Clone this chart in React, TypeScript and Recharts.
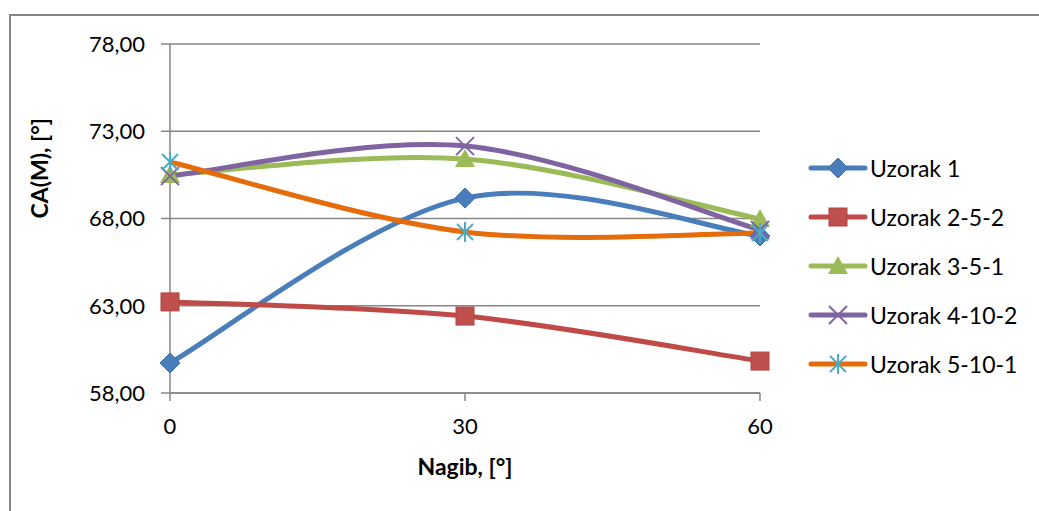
import React from 'react';
import { LineChart, Line, XAxis, YAxis, CartesianGrid, Legend } from 'recharts';

// Nagib (tilt angle) in degrees
const angles = [0, 30, 60];

// CA(M) values per sample
const uzorak1 = [59.72, 69.17, 67.0];
const uzorak252 = [63.22, 62.41, 59.83];
const uzorak351 = [70.5, 71.41, 67.97];
const uzorak4102 = [70.43, 72.15, 67.34];
const uzorak5101 = [71.24, 67.23, 67.17];

const yTicks = [58, 63, 68, 73, 78];
const xTicks = [0, 30, 60];

const data = angles.map((a, i) => ({
  angle: a,
  u1: uzorak1[i],
  u2: uzorak252[i],
  u3: uzorak351[i],
  u4: uzorak4102[i],
  u5: uzorak5101[i],
}));

const FONT = 'Lato, "Open Sans", sans-serif';
const GRID = '#868686';

// Excel-like smoothed line (Catmull-Rom through the points)
const excelSmooth = (context: any) => {
  let pts: number[][] = [];
  return {
    areaStart() {},
    areaEnd() {},
    lineStart() {
      pts = [];
    },
    point(x: number, y: number) {
      pts.push([+x, +y]);
    },
    lineEnd() {
      if (!pts.length) return;
      context.moveTo(pts[0][0], pts[0][1]);
      for (let i = 0; i < pts.length - 1; i++) {
        const p0 = pts[i - 1] || pts[i];
        const p1 = pts[i];
        const p2 = pts[i + 1];
        const p3 = pts[i + 2] || p2;
        context.bezierCurveTo(
          p1[0] + (p2[0] - p0[0]) / 6,
          p1[1] + (p2[1] - p0[1]) / 6,
          p2[0] - (p3[0] - p1[0]) / 6,
          p2[1] - (p3[1] - p1[1]) / 6,
          p2[0],
          p2[1]
        );
      }
    },
  };
};

type Shape = 'diamond' | 'square' | 'triangle' | 'x' | 'star';

const Marker = ({ cx, cy, shape }: { cx: number; cy: number; shape: Shape }) => {
  if (cx == null || cy == null) return null;
  if (shape === 'diamond') {
    const r = 10;
    return <polygon points={`${cx},${cy - r} ${cx + r},${cy} ${cx},${cy + r} ${cx - r},${cy}`} fill="#4A7EBB" stroke="#3F6FAA" strokeWidth={1} />;
  }
  if (shape === 'square') {
    const r = 9;
    return <rect x={cx - r} y={cy - r} width={r * 2} height={r * 2} fill="#C0504D" stroke="#B0443F" strokeWidth={1} />;
  }
  if (shape === 'triangle') {
    const r = 10;
    return <polygon points={`${cx},${cy - r} ${cx + r},${cy + r * 0.8} ${cx - r},${cy + r * 0.8}`} fill="#9BBB59" />;
  }
  if (shape === 'x') {
    const r = 9;
    return (
      <g stroke="#8064A2" strokeWidth={2}>
        <line x1={cx - r} y1={cy - r} x2={cx + r} y2={cy + r} />
        <line x1={cx - r} y1={cy + r} x2={cx + r} y2={cy - r} />
      </g>
    );
  }
  const r = 10;
  return (
    <g stroke="#4BACC6" strokeWidth={2}>
      <line x1={cx - r * 0.8} y1={cy - r * 0.8} x2={cx + r * 0.8} y2={cy + r * 0.8} />
      <line x1={cx - r * 0.8} y1={cy + r * 0.8} x2={cx + r * 0.8} y2={cy - r * 0.8} />
      <line x1={cx} y1={cy - r} x2={cx} y2={cy + r} />
    </g>
  );
};

const series = [
  { key: 'u1', name: 'Uzorak 1', color: '#4A7EBB', shape: 'diamond' as Shape },
  { key: 'u2', name: 'Uzorak 2-5-2', color: '#BE4B48', shape: 'square' as Shape },
  { key: 'u3', name: 'Uzorak 3-5-1', color: '#9BBB59', shape: 'triangle' as Shape },
  { key: 'u4', name: 'Uzorak 4-10-2', color: '#8064A2', shape: 'x' as Shape },
  { key: 'u5', name: 'Uzorak 5-10-1', color: '#E46C0A', shape: 'star' as Shape },
];

const renderLegend = () => (
  <div style={{ fontFamily: FONT }}>
    {series.map((s) => (
      <div key={s.key} style={{ display: 'flex', alignItems: 'center', height: 49 }}>
        <svg width={60} height={24}>
          <line x1={3} y1={12} x2={57} y2={12} stroke={s.color} strokeWidth={5} strokeLinecap="round" />
          <Marker cx={30} cy={12} shape={s.shape} />
        </svg>
        <span style={{ fontSize: 23, color: '#000', marginLeft: 2 }}>{s.name}</span>
      </div>
    ))}
  </div>
);

export default function App() {
  return (
    <div style={{ position: 'absolute', left: 0, top: 0, width: 1039, height: 511, background: '#fff' }}>
      <div
        style={{
          position: 'absolute',
          left: 9,
          top: 14,
          width: 1030,
          height: 497,
          borderTop: `2px solid ${GRID}`,
          borderLeft: `2px solid ${GRID}`,
          boxSizing: 'border-box',
        }}
      />
      <div style={{ position: 'absolute', left: 0, top: 0 }}>
        <LineChart width={1039} height={511} data={data} margin={{ top: 44, right: 279, bottom: 58, left: 0 }}>
          <CartesianGrid vertical={false} stroke={GRID} strokeWidth={1.5} />
          <XAxis
            dataKey="angle"
            type="number"
            domain={[0, 60]}
            ticks={xTicks}
            height={60}
            stroke={GRID}
            strokeWidth={1.5}
            tickSize={8}
            tickMargin={17}
            tick={{ fill: '#000', fontSize: 22, fontFamily: FONT }}
            label={{ value: 'Nagib, [°]', position: 'insideBottom', offset: -22, fill: '#000', fontSize: 23, fontWeight: 'bold', fontFamily: FONT }}
          />
          <YAxis
            type="number"
            domain={[58, 78]}
            ticks={yTicks}
            width={170}
            stroke={GRID}
            strokeWidth={1.5}
            tickSize={9}
            tickMargin={16}
            tickFormatter={(v: number) => v.toFixed(2).replace('.', ',')}
            tick={{ fill: '#000', fontSize: 22, fontFamily: FONT }}
            label={{ value: 'CA(M), [°]', angle: -90, position: 'insideLeft', offset: 40, fill: '#000', fontSize: 23, fontWeight: 'bold', fontFamily: FONT }}
          />
          <Legend
            layout="vertical"
            align="center"
            verticalAlign="middle"
            content={renderLegend}
            wrapperStyle={{ left: 808, top: 143, width: 230 }}
          />
          {series.map((s) => (
            <Line
              key={s.key}
              dataKey={s.key}
              name={s.name}
              type={excelSmooth as any}
              stroke={s.color}
              strokeWidth={5}
              dot={(p: any) => <Marker key={`${s.key}-${p.index}`} cx={p.cx} cy={p.cy} shape={s.shape} />}
              activeDot={false}
              isAnimationActive={false}
            />
          ))}
        </LineChart>
      </div>
    </div>
  );
}
